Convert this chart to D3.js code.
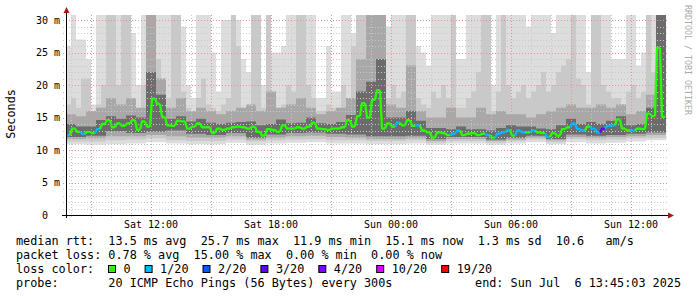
<!DOCTYPE html>
<html>
<head>
<meta charset="utf-8">
<script src="https://cdn.jsdelivr.net/npm/d3@7"></script>
<style>
  body { margin: 0; background: #fff; }
  svg { display: block; }
  text { font-family: "DejaVu Sans Mono", monospace; white-space: pre; }
</style>
</head>
<body>
<div id="chart"></div>
<script>
// 15 minute steps, Sat 07:45 -> Sun 13:45
const start = new Date(2025, 6, 5, 7, 45, 3);
const end = new Date(2025, 6, 6, 13, 45, 3);

// median rtt in ms, one value per 15 min
const medianRtt = [
  12.3, 13.3, 12.8, 12.5, 12.8, 12.6, 13.2, 14.0, 14.6, 13.5,
  14.1, 13.7, 14.1, 14.6, 13.1, 14.4, 13.6, 17.9, 17.1, 15.1,
  13.8, 13.7, 14.5, 14.4, 13.3, 13.6, 14.1, 13.5, 13.5, 12.6,
  13.3, 13.1, 13.3, 13.5, 13.6, 13.5, 13.3, 13.6, 12.8, 12.2,
  13.2, 13.1, 12.8, 13.8, 13.3, 13.3, 13.5, 13.3, 13.6, 14.2,
  13.3, 13.2, 13.1, 13.3, 13.3, 13.5, 14.6, 13.6, 15.2, 17.2,
  15.0, 17.7, 19.2, 13.3, 14.1, 13.6, 14.2, 13.8, 14.6, 13.7,
  13.8, 13.0, 12.7, 11.9, 12.7, 12.6, 12.3, 12.5, 13.0, 12.3,
  12.5, 12.6, 12.3, 12.5, 12.3, 11.9, 12.5, 12.7, 13.1, 12.2,
  13.0, 12.7, 12.7, 13.0, 12.7, 12.6, 12.0, 12.6, 12.2, 13.2,
  13.5, 14.1, 13.2, 13.0, 13.6, 13.3, 12.7, 13.3, 13.7, 13.8,
  14.7, 13.3, 13.0, 13.0, 13.3, 13.2, 15.6, 15.2, 25.7, 15.1
];

// lost pings out of 20, same steps
const lossCount = [
  1, 0, 0, 1, 0, 0, 1, 0, 0, 0, 0, 0, 0, 0, 0, 0, 0, 0, 0, 0,
  0, 0, 0, 0, 0, 0, 0, 0, 0, 0, 0, 0, 0, 0, 0, 0, 0, 0, 0, 0,
  0, 0, 0, 0, 0, 0, 0, 0, 0, 0, 0, 0, 0, 0, 0, 0, 0, 0, 0, 0,
  0, 0, 0, 0, 0, 0, 1, 0, 0, 0, 1, 0, 0, 0, 0, 0, 0, 1, 1, 0,
  0, 0, 0, 0, 1, 0, 1, 1, 1, 0, 1, 1, 0, 1, 0, 0, 1, 0, 0, 0,
  0, 1, 1, 1, 0, 1, 1, 3, 1, 1, 0, 0, 0, 1, 0, 0, 0, 0, 0, 0
];

// smoke: upper edges (outer -> inner)
const smokeHi1 = [
  26, 31, 27, 27, 24, 17, 31, 31, 31, 31, 31, 31, 31, 28, 20, 31, 31, 31, 31, 31,
  31, 31, 31, 29, 20, 18, 31, 31, 31, 25, 19, 30, 30, 31, 30, 24, 22, 31, 31, 20,
  31, 25, 25, 26, 31, 31, 31, 31, 31, 31, 18, 18, 26, 19, 19, 31, 31, 28, 31, 31,
  31, 31, 31, 31, 29, 31, 31, 31, 31, 31, 26, 25, 23, 31, 31, 31, 31, 31, 24, 24,
  31, 31, 31, 31, 31, 20, 31, 31, 31, 31, 31, 31, 29, 31, 31, 31, 31, 28, 31, 31,
  31, 31, 31, 31, 22, 31, 31, 31, 31, 24, 24, 24, 31, 31, 23, 25, 31, 31, 31, 31
];
const smokeHi2 = [
  17, 18, 16.5, 21, 21, 16, 17, 20, 31, 31, 20, 31, 31, 18, 16.5, 20, 31, 31, 24, 20,
  18, 31, 31, 19, 16.5, 16, 18, 21, 17, 16.5, 16, 17, 18, 31, 26, 16.5, 16.5, 31, 31, 16.5,
  31, 17, 16.5, 17, 20, 19, 31, 31, 20, 18, 16, 16, 17, 16.5, 16.5, 20, 18, 26, 31, 31,
  31, 31, 31, 20, 18, 20, 18, 19, 31, 31, 18, 17, 16.5, 19, 18, 20, 18, 31, 16.5, 16.5,
  18, 19, 22, 31, 31, 16, 19, 31, 20, 18, 19, 20, 18, 19, 20, 22, 19, 20, 22, 23,
  24, 31, 21, 20, 17, 31, 31, 20, 19, 18, 18, 17, 19, 20, 18, 19, 31, 22, 31, 31
];
const smokeHi3 = [
  15.5, 15.2, 16, 16.5, 18, 17, 18, 16.5, 31, 21, 16.5, 18, 16, 16.5, 16, 15.5, 16, 16.5, 17, 16,
  19, 16.5, 17, 18, 16.5, 15.5, 16, 16.5, 18, 24, 31, 31, 17, 16.5, 23, 16, 15, 15, 16.5, 15,
  15, 16.5, 15.5, 16, 15.5, 15.5, 15, 15.5, 16, 16.5, 17, 16.5, 16.5, 17, 16.5, 17, 15.5, 16, 18.5, 31
];
const smokeHi4 = [
  14.0, 13.6, 13.6, 14.6, 15.2, 14.8, 15.3, 15.0, 22, 18.5, 14.8, 15.2, 14.4, 14.8, 14.2, 14.0, 14.2, 14.3, 14.4, 13.8,
  14.0, 14.7, 14.1, 14.2, 15.0, 14.1, 14.0, 14.3, 15.4, 19, 20.5, 24, 15.0, 15.0, 16.0, 14.5, 13.4, 13.4, 13.2, 13.6,
  13.2, 13.2, 13.0, 13.4, 13.8, 13.6, 13.6, 13.3, 13.2, 13.8, 14.8, 14.0, 14.3, 14.0, 14.5, 15.2, 13.8, 14.0, 16.5, 31
];
// smoke: lower edges, hourly
const smokeLo1 = [10.9, 10.8, 10.9, 11.0, 11.2, 11.0, 10.9, 10.9, 11.1, 10.8, 11.0, 11.1, 11.2, 11.0, 11.0, 10.9, 10.9, 11.0, 10.8, 11.0, 11.0, 10.8, 11.0, 11.2, 10.9, 11.2, 11.0, 11.1, 11.3, 11.5];
const smokeLo2 = [11.3, 11.3, 11.5, 11.6, 11.8, 11.5, 11.4, 11.4, 11.6, 11.3, 11.5, 11.6, 11.7, 11.5, 11.5, 11.4, 11.4, 11.5, 11.1, 11.4, 11.4, 11.1, 11.4, 11.6, 11.2, 11.7, 11.5, 11.6, 11.8, 11.9];
const smokeLo3 = [11.7, 11.8, 12.1, 12.1, 12.3, 12.1, 11.9, 11.9, 12.1, 11.6, 11.9, 12.1, 12.2, 12.0, 11.9, 11.7, 11.7, 11.8, 11.4, 11.7, 11.7, 11.4, 11.6, 11.9, 11.5, 12.0, 11.9, 12.0, 12.1, 12.3];
const smokeLo4 = [12.0, 12.2, 12.9, 12.6, 12.8, 13.0, 12.5, 12.3, 12.6, 11.9, 12.4, 12.6, 12.7, 12.5, 12.4, 12.1, 12.1, 12.2, 11.7, 12.0, 12.0, 11.6, 11.9, 12.2, 11.7, 12.4, 12.2, 12.3, 12.5, 12.7];

const yTicks = [0, 5, 10, 15, 20, 25, 30];
const lossLabels = ["0", "1/20", "2/20", "3/20", "4/20", "10/20", "19/20"];
const lossColors = ["#26ff00", "#00b8ff", "#0059ff", "#5e00ff", "#7e00ff", "#dd00ff", "#ff0000"];

const legendLines = [
  "median rtt:  13.5 ms avg  25.7 ms max  11.9 ms min  15.1 ms now  1.3 ms sd  10.6   am/s",
  "packet loss: 0.78 % avg  15.00 % max  0.00 % min  0.00 % now"
];
const probeText = "probe:       20 ICMP Echo Pings (56 Bytes) every 300s";
const endText = "end: Sun Jul  6 13:45:03 2025";

const W = 697, H = 297;
const plot = { left: 66, right: 666, top: 15, bottom: 215 };
const yMax = 30.77;
const nBins = medianRtt.length;
const stepMs = (end - start) / nBins;
const binTime = (i) => new Date(+start + i * stepMs);

const x = d3.scaleTime().domain([start, end]).range([plot.left, plot.right]);
const y = d3.scaleLinear().domain([0, yMax]).range([plot.bottom, plot.top]);

const svg = d3.select("#chart").append("svg")
  .attr("width", W)
  .attr("height", H);

svg.append("rect").attr("width", W).attr("height", H).attr("fill", "#fff");

svg.append("clipPath").attr("id", "plot-clip")
  .append("rect")
  .attr("x", plot.left).attr("y", plot.top)
  .attr("width", plot.right - plot.left).attr("height", plot.bottom - plot.top);

// smoke layers
const sample = (arr, i) => arr[Math.min(arr.length - 1, Math.floor(i * arr.length / nBins))];
const layers = [
  { lo: smokeLo1, hi: smokeHi1, color: "#dddddd" },
  { lo: smokeLo2, hi: smokeHi2, color: "#c9c9c9" },
  { lo: smokeLo3, hi: smokeHi3, color: "#a8a8a8" },
  { lo: smokeLo4, hi: smokeHi4, color: "#6c6c6c" }
];

const area = d3.area()
  .x(d => x(d.t))
  .y0(d => y(d.lo))
  .y1(d => y(Math.min(d.hi, yMax)))
  .curve(d3.curveStepAfter);

const smoke = svg.append("g").attr("clip-path", "url(#plot-clip)");
layers.forEach(layer => {
  const pts = d3.range(nBins + 1).map(i => {
    const j = Math.min(i, nBins - 1);
    return { t: binTime(i), lo: sample(layer.lo, j), hi: sample(layer.hi, j) };
  });
  smoke.append("path").attr("d", area(pts)).attr("fill", layer.color);
});

// grid
const grid = svg.append("g").attr("stroke-dasharray", "1,2").attr("stroke-width", 1);
d3.range(1, 31).forEach(v => {
  const yy = Math.round(y(v)) + 0.5;
  grid.append("line")
    .attr("x1", plot.left - 3).attr("x2", plot.right + 3)
    .attr("y1", yy).attr("y2", yy)
    .attr("stroke", v % 5 === 0 ? "#ee9090" : "#c8c8c8");
});
d3.timeHour.range(start, end).forEach(t => {
  const xx = Math.round(x(t)) + 0.5;
  grid.append("line")
    .attr("x1", xx).attr("x2", xx)
    .attr("y1", plot.top).attr("y2", plot.bottom + 4)
    .attr("stroke", t.getHours() % 3 === 0 ? "#ee9090" : "#c8c8c8");
});

// median line coloured by loss
const lossIndex = (n) => n === 0 ? 0 : n <= 3 ? n : n < 10 ? 4 : n < 19 ? 5 : 6;
const median = svg.append("g").attr("clip-path", "url(#plot-clip)")
  .attr("fill", "none").attr("stroke-width", 2.3).attr("stroke-linejoin", "round");
let prev = null;
medianRtt.forEach((v, i) => {
  const x0 = x(binTime(i)) + 1, x1 = x(binTime(i + 1)) - 1, yy = y(v);
  const pts = prev ? [prev, [x0, yy], [x1, yy]] : [[x0, yy], [x1, yy]];
  median.append("path")
    .attr("d", d3.line()(pts))
    .attr("stroke", lossColors[lossIndex(lossCount[i])]);
  prev = [x1, yy];
});

// axes
svg.append("line")
  .attr("x1", plot.left + 0.5).attr("x2", plot.left + 0.5)
  .attr("y1", plot.bottom + 3).attr("y2", 11)
  .attr("stroke", "#000");
svg.append("line")
  .attr("x1", plot.left - 4).attr("x2", plot.right + 3)
  .attr("y1", plot.bottom + 0.5).attr("y2", plot.bottom + 0.5)
  .attr("stroke", "#000");
svg.append("path")
  .attr("d", `M${plot.left - 2.5},13 L${plot.left + 0.5},7 L${plot.left + 3.5},13 Z`)
  .attr("fill", "#a31b1b");
svg.append("path")
  .attr("d", `M${plot.right + 2},${plot.bottom - 2.5} L${plot.right + 8},${plot.bottom + 0.5} L${plot.right + 2},${plot.bottom + 3.5} Z`)
  .attr("fill", "#a31b1b");

// y labels
svg.append("g").selectAll("text")
  .data(yTicks)
  .join("text")
  .attr("x", d => d === 0 ? 48 : 60)
  .attr("y", d => y(d) + 3.5)
  .attr("text-anchor", "end")
  .attr("font-size", 10)
  .attr("fill", "#000")
  .text(d => d === 0 ? "0" : `${d} m`);

// x labels
const fmt = d3.timeFormat("%a %H:%M");
svg.append("g").selectAll("text")
  .data(d3.timeHour.every(6).range(start, end))
  .join("text")
  .attr("x", d => x(d))
  .attr("y", 228)
  .attr("text-anchor", "middle")
  .attr("font-size", 10)
  .attr("fill", "#000")
  .text(d => fmt(d));

svg.append("text")
  .attr("transform", "translate(15,114) rotate(-90)")
  .attr("text-anchor", "middle")
  .attr("font-size", 11.8)
  .attr("fill", "#000")
  .text("Seconds");

svg.append("text")
  .attr("transform", "translate(685,5) rotate(90)")
  .attr("font-size", 8.3)
  .attr("fill", "#aaaaaa")
  .text("RRDTOOL / TOBI OETIKER");

// legend
const legend = svg.append("g").attr("font-size", 11.8).attr("fill", "#000");
legendLines.forEach((line, i) => {
  legend.append("text").attr("x", 16).attr("y", 245 + i * 14).text(line);
});
legend.append("text").attr("x", 16).attr("y", 273).text("loss color:");
let lx = 108.5;
lossLabels.forEach((lab, i) => {
  legend.append("rect")
    .attr("x", lx).attr("y", 265.5)
    .attr("width", 7).attr("height", 7)
    .attr("fill", lossColors[i])
    .attr("stroke", "#000");
  legend.append("text").attr("x", lx + 15).attr("y", 273).text(lab);
  lx += 15 + lab.length * 7.1 + 14.5;
});
legend.append("text").attr("x", 16).attr("y", 287).text(probeText);
legend.append("text").attr("x", 681).attr("y", 287).attr("text-anchor", "end").text(endText);
</script>
</body>
</html>
